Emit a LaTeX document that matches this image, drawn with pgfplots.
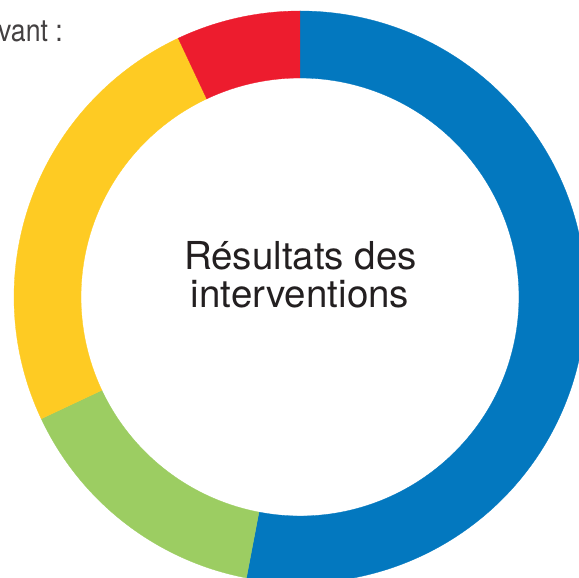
\documentclass[border=0pt]{standalone}
\usepackage{pgfplots}
\usepackage{pgfplotstable}
\pgfplotsset{compat=1.18}
\usepackage{fontspec}
\setmainfont{TeX Gyre Heros}

\definecolor{cbleu}{HTML}{0378BF}
\definecolor{cvert}{HTML}{9CCD62}
\definecolor{cjaune}{HTML}{FECB23}
\definecolor{crouge}{HTML}{ED1C2E}
\definecolor{ctexte}{HTML}{231F20}

% parts (%) clockwise from 12 o'clock
\pgfplotstableread{
part couleur
53 cbleu
15 cvert
25 cjaune
7 crouge
}\parts

\def\Ro{286}
\def\Ri{219}

\begin{document}
\begin{tikzpicture}
\begin{axis}[
    x=1pt, y=1pt,
    xmin=-300, xmax=279,
    ymin=-281, ymax=297,
    hide axis,
    scale only axis,
    disabledatascaling,
]
\xdef\cumul{0}
\pgfplotsinvokeforeach{0,...,3}{
    \pgfplotstablegetelem{#1}{part}\of\parts \let\val\pgfplotsretval
    \pgfplotstablegetelem{#1}{couleur}\of\parts \let\col\pgfplotsretval
    \pgfmathsetmacro\aA{90-3.6*\cumul}
    \pgfmathsetmacro\aB{90-3.6*(\cumul+\val)}
    \pgfmathsetmacro\nc{\cumul+\val}
    \xdef\cumul{\nc}
    \edef\temp{\noexpand\fill[\col, draw=\col, line width=0.3pt]
        (axis cs:{\Ro*cos(\aA)},{\Ro*sin(\aA)})
        arc[start angle=\aA, end angle=\aB, radius=\Ro pt]
        -- (axis cs:{\Ri*cos(\aB)},{\Ri*sin(\aB)})
        arc[start angle=\aB, end angle=\aA, radius=\Ri pt] -- cycle;}
    \temp
}
\node[anchor=base, text=ctexte, font=\fontsize{38.5}{40}\selectfont]
    at (axis cs:0.5,27.4) {Résultats des};
\node[anchor=base, text=ctexte, font=\fontsize{38.5}{40}\selectfont]
    at (axis cs:0,-10.6) {interventions};
\node[anchor=base east, text=ctexte!85, font=\fontsize{31}{33}\selectfont,
      inner sep=0pt, xscale=0.86]
    at (axis cs:-237,255.3) {suivant :};
\end{axis}
\pgfresetboundingbox
\useasboundingbox (current axis.south west) rectangle (current axis.north east);
\end{tikzpicture}
\end{document}
